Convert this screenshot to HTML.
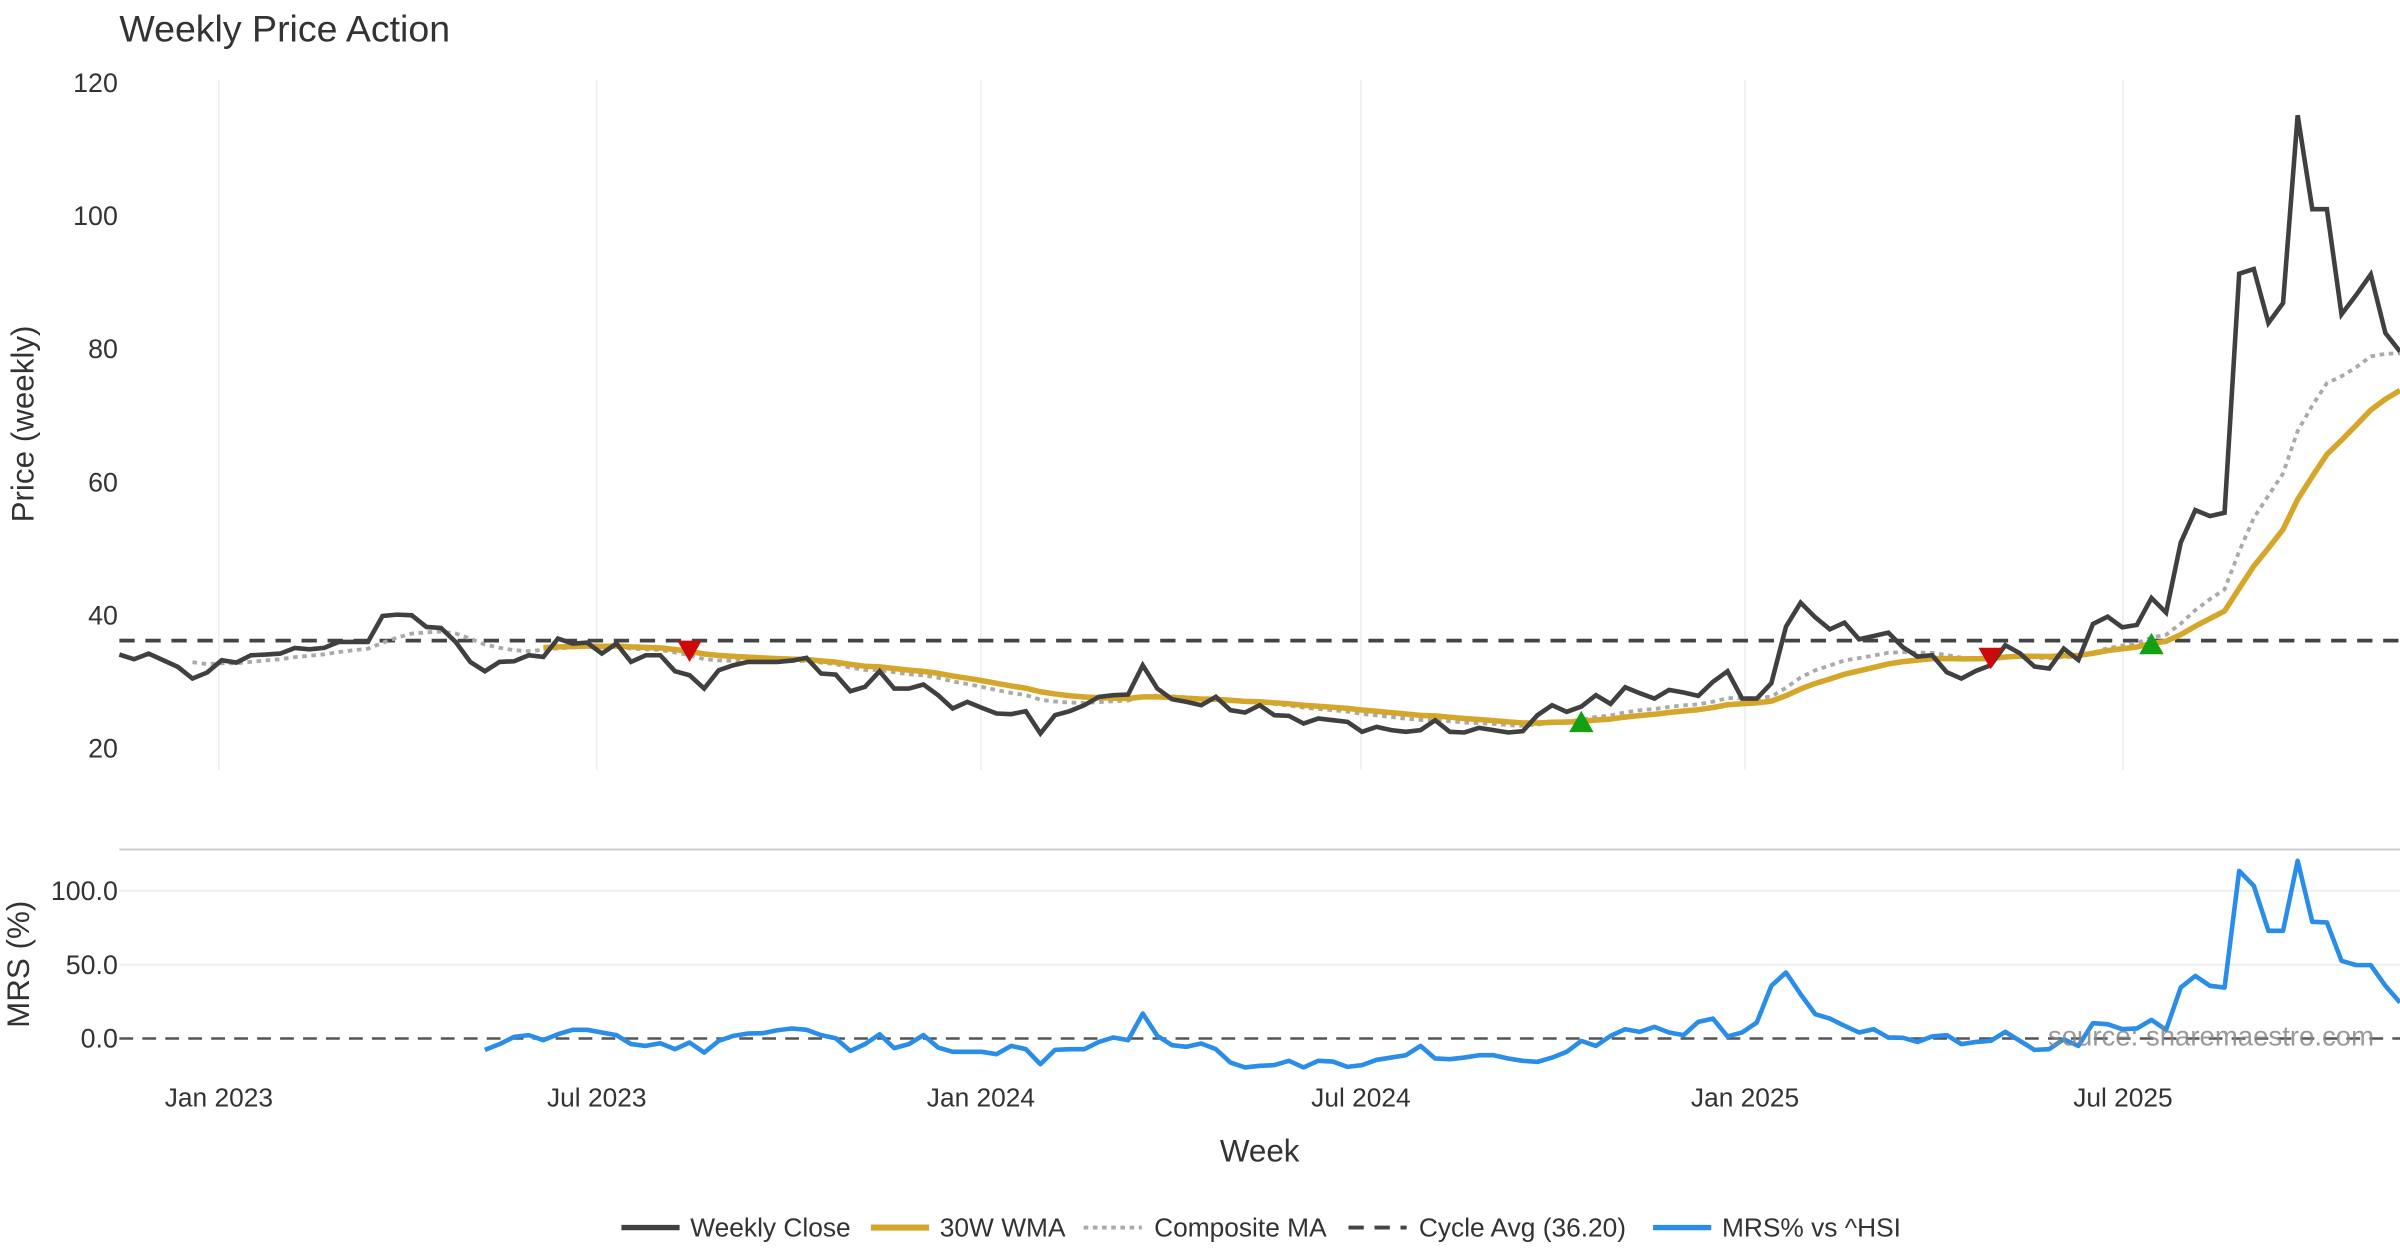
<!DOCTYPE html>
<html><head><meta charset="utf-8"><title>Weekly Price Action</title>
<style>html,body{margin:0;padding:0;background:#fff}svg{display:block}text{font-family:"Liberation Sans","DejaVu Sans",sans-serif}</style>
</head><body>
<svg id="chart" width="2400" height="1260" viewBox="0 0 1568 823.2" xmlns="http://www.w3.org/2000/svg">
<rect width="1568" height="823.2" fill="#fff"/>
<text x="78" y="27" font-size="24.5" fill="#333">Weekly Price Action</text>
<g id="grid"></g>
<g id="axes"></g>
<g id="series"></g>
<text transform="translate(22,277) rotate(-90)" text-anchor="middle" font-size="20.5" fill="#333">Price (weekly)</text>
<text transform="translate(19,630) rotate(-90)" text-anchor="middle" font-size="20.5" fill="#333">MRS (%)</text>
<text x="823" y="759" text-anchor="middle" font-size="20.5" fill="#333">Week</text>
<text x="1338" y="683" font-size="18" fill="#888" opacity="0.85">source: sharemaestro.com</text>
<g>
 <line x1="406" y1="802" x2="444" y2="802" stroke="#404040" stroke-width="3.5"/>
 <text x="451" y="808" font-size="17.2" fill="#333">Weekly Close</text>
 <line x1="569" y1="802" x2="607" y2="802" stroke="#d4a62a" stroke-width="4"/>
 <text x="614" y="808" font-size="17.2" fill="#333">30W WMA</text>
 <line x1="708" y1="802" x2="746" y2="802" stroke="#aaa" stroke-width="2.5" stroke-dasharray="3,3"/>
 <text x="754" y="808" font-size="17.2" fill="#333">Composite MA</text>
 <line x1="881" y1="802" x2="919" y2="802" stroke="#444" stroke-width="2.5" stroke-dasharray="10,7"/>
 <text x="927" y="808" font-size="17.2" fill="#333">Cycle Avg (36.20)</text>
 <line x1="1080" y1="802" x2="1118" y2="802" stroke="#2a8de8" stroke-width="3.5"/>
 <text x="1125" y="808" font-size="17.2" fill="#333">MRS% vs ^HSI</text>
</g>
</svg>
<script>
const closes = [34.1,33.4,34.25,33.25,32.25,30.5,31.4,33.25,32.9,34,34.1,34.25,35.1,34.9,35.1,36,36,36,39.9,40.1,40,38.25,38.1,36,33,31.6,33,33.1,34,33.75,36.5,35.75,35.9,34.25,35.75,33,34,34,31.6,31,29,31.75,32.5,33,33,33,33.2,33.6,31.25,31.1,28.6,29.25,31.6,29,
29.0,29.6,28,26,27,26.1,25.25,25.15,25.6,22.25,25,25.6,26.5,27.75,28,28.1,32.5,29,27.4,27,26.5,27.75,25.75,25.4,26.5,25,24.9,23.75,24.5,24.25,24,22.5,23.25,22.75,22.5,22.75,24.25,22.5,22.4,23.1,22.75,22.4,22.6,25,
26.5,25.5,26.3,28,26.7,29.2,28.3,27.5,28.8,28.4,27.9,30,31.6,27.5,27.5,29.8,38.3,41.9,39.7,37.9,38.9,36.4,36.9,37.4,35.2,33.8,
34,31.45,30.5,31.65,32.5,35.5,34.3,32.3,32,35,33.3,38.7,39.8,38.2,38.55,42.6,40.4,50.9,55.8,54.9,55.4,91.3,92,83.9,86.9,115.1,101,101,85.2,88.1,91.2,82.4,79.6];
const mrs = [-7.7,-3.8,1.1,2.3,-1.1,2.9,5.9,5.9,4.1,2.3,-3.8,-5,-3.2,-7.2,-2.7,-9.5,-1.6,1.8,3.4,3.6,5.6,6.8,5.9,2.3,0.2,-8.4,-3.8,2.9,-6.5,-3.8,2.3,-6.1,-9,-9,-9,-10.6,-5,-7.2,-17.4,-7.7,-7.2,-7.2,-2.3,0.7,-1.1,16.9,1.8,-4.5,-5.6,-3.4,-7.2,-16.3,-19.6,-18.5,-18,-15.1,-19.6,-15.1,-15.6,
-19.2,-18,-14.4,-12.9,-11.3,-5,-13.5,-14,-12.9,-11.3,-11.3,-13.5,-15.1,-15.8,-12.9,-9,-1.6,-5,1.8,6.3,4.5,7.9,4.1,2.3,11.3,13.5,1.4,4.1,10.8,35.7,44.7,30,16.5,13.5,8.6,4.1,6.3,0.7,0.5,-2.3,1.4,2.3,-3.8,-2.3,-1.6,4.5,-1.6,-7.7,-7.2,-0.5,-5,10.4,9.7,6.3,6.8,12.6,5.9,34.5,42.4,35.7,34.5,113.5,103.4,72.9,72.9,120.3,79,78.6,52.6,49.7,49.7,35.7,24.4];
const cycleAvg = 36.20;
const priceTicks = [20,40,60,80,100,120];
const mrsTicks = [0,50,100];
const dateTicks = ["2023-01-01","2023-07-01","2024-01-01","2024-07-01","2025-01-01","2025-07-01"];
const dateTickLabels = ["Jan 2023","Jul 2023","Jan 2024","Jul 2024","Jan 2025","Jul 2025"];
const sellSignals = [39,128];
const buySignals = [100,139];

const NS="http://www.w3.org/2000/svg";
const X0=78, X1=1568, N=closes.length, STEP=(X1-X0)/(N-1);
const mrsStart = N - mrs.length;
const xi=i=>X0+i*STEP;
const refDate=new Date("2023-01-01");
const xd=d=>143+((new Date(d)-refDate)/86400000)*(1244/912);
const yP=v=>489-(v-20)*4.35;
const yM=v=>678.5-v*0.965;
function mk(tag,attrs,parent){const e=document.createElementNS(NS,tag);for(const k in attrs)e.setAttribute(k,attrs[k]);parent.appendChild(e);return e;}
const grid=document.getElementById('grid'), axes=document.getElementById('axes'), ser=document.getElementById('series');

const wma=closes.map((_,i)=>{if(i<29)return null;let s=0,w=0;for(let k=0;k<30;k++){s+=closes[i-29+k]*(k+1);w+=k+1;}return s/w;});
const ema=[];let e=null;closes.forEach((c,i)=>{if(i<5){ema.push(null);return;}if(e===null){e=closes.slice(0,6).reduce((a,b)=>a+b)/6;}else e=e+(c-e)*2/11;ema.push(e);});
const comp=closes.map((_,i)=>ema[i]===null?null:(wma[i]===null?ema[i]:(ema[i]+wma[i])/2));

dateTicks.forEach((d,j)=>{const x=xd(d);
 const g=mk('line',{x1:x,y1:52,x2:x,y2:503,stroke:'#ebedf0','stroke-width':1},grid);
 
 
 const t=mk('text',{x:x,y:723,'text-anchor':'middle','font-size':17.2,fill:'#333'},axes);
 t.textContent=dateTickLabels[j];
 
 
});
priceTicks.forEach(v=>{const t=mk('text',{x:77,y:yP(v)+6,'text-anchor':'end','font-size':17.5,fill:'#333'},axes);t.textContent=v;
 
 });
mrsTicks.forEach(v=>{if(v!==0){const l=mk('line',{x1:X0,y1:yM(v),x2:X1,y2:yM(v),stroke:'#eceef0','stroke-width':1.2},grid);
 
 }
 const t=mk('text',{x:77,y:yM(v)+6,'text-anchor':'end','font-size':17.5,fill:'#333'},axes);t.textContent=v.toFixed(1);
 
 });
const sep=mk('line',{x1:X0,y1:555,x2:X1,y2:555,stroke:'#c8c8c8','stroke-width':1.2},grid);


const zl=mk('line',{x1:X0,y1:yM(0),x2:X1,y2:yM(0),stroke:'#555','stroke-width':1.6,'stroke-dasharray':'9,6'},grid);



function path(vals,yf,off){let d='';vals.forEach((v,i)=>{if(v===null)return;d+=(d?'L':'M')+xi(i+off).toFixed(2)+','+yf(v).toFixed(2);});return d;}
const cl=mk('line',{x1:X0,y1:yP(cycleAvg),x2:X1,y2:yP(cycleAvg),stroke:'#444','stroke-width':2.5,'stroke-dasharray':'10,7'},ser);


const pc=mk('path',{d:path(comp,yP,0),fill:'none',stroke:'#aaa','stroke-width':2.5,'stroke-dasharray':'3,3'},ser);


const pw=mk('path',{d:path(wma,yP,0),fill:'none',stroke:'#d4a62a','stroke-width':3.6,'stroke-linejoin':'round'},ser);


const pcl=mk('path',{d:path(closes,yP,0),fill:'none',stroke:'#404040','stroke-width':3,'stroke-linejoin':'miter'},ser);


const pm=mk('path',{d:path(mrs,yM,mrsStart),fill:'none',stroke:'#2a8de8','stroke-width':3,'stroke-linejoin':'round'},ser);


sellSignals.forEach(i=>{const x=xi(i),y=yP(wma[i]);
 const p=mk('polygon',{points:`${x-8},${y-7} ${x+8},${y-7} ${x},${y+7}`,fill:'#cc0a0a'},ser);
 
 });
buySignals.forEach(i=>{const x=xi(i),y=yP(wma[i]);
 const p=mk('polygon',{points:`${x-8},${y+7} ${x+8},${y+7} ${x},${y-7}`,fill:'#13a013'},ser);
 
 });
</script>
</body></html>
